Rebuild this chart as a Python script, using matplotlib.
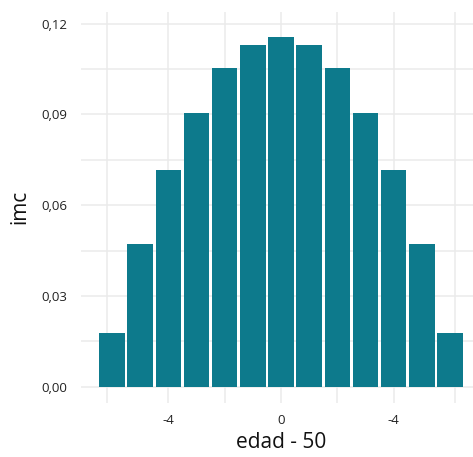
import matplotlib
matplotlib.use("Agg")
import matplotlib.pyplot as plt
import numpy as np

# data
edad = [-6, -5, -4, -3, -2, -1, 0, 1, 2, 3, 4, 5, 6]
imc = [0.0176, 0.0470, 0.0715, 0.0906, 0.1052, 0.1128, 0.1155,
       0.1128, 0.1052, 0.0906, 0.0715, 0.0470, 0.0176]
x_major = [-4, 0, 4]
x_major_labels = ["-4", "0", "-4"]
x_minor = [-6.18, -2, 2, 6.18]
y_ticks = [0.00, 0.03, 0.06, 0.09, 0.12]
y_labels = ["0,00", "0,03", "0,06", "0,09", "0,12"]
y_minor = [0.015, 0.045, 0.075, 0.105]

plt.rcParams['font.family'] = ['Open Sans', 'DejaVu Sans']

W, H = 473, 457
fig = plt.figure(figsize=(W / 100, H / 100), dpi=100)
xlim = (-7.1, 7.1)
ylim = (-0.0052, 0.1238)
unit = 28.17
left_px = 281 + xlim[0] * unit
width_px = (xlim[1] - xlim[0]) * unit
top_px = 12
bottom_px = 402.5
ax = fig.add_axes([left_px / W, 1 - bottom_px / H, width_px / W, (bottom_px - top_px) / H])
ax.set_xlim(*xlim)
ax.set_ylim(*ylim)

grid_c = "#EBEBEB"
for v in x_major + x_minor:
    ax.axvline(v, color=grid_c, lw=1.1, zorder=0)
for v in y_ticks + y_minor:
    ax.axhline(v, color=grid_c, lw=1.1, zorder=0)

ax.bar(edad, imc, width=0.9, color="#0D7A8C", zorder=2)

ax.set_xticks(x_major)
ax.set_xticklabels(x_major_labels)
ax.set_yticks(y_ticks)
ax.set_yticklabels(y_labels)
ax.tick_params(axis='both', length=0, labelsize=9.5, colors="#222222")
ax.tick_params(axis='x', pad=8)
ax.tick_params(axis='y', pad=10)
for s in ax.spines.values():
    s.set_visible(False)

ax.set_xlabel("edad - 50", fontsize=15, color="#111111", labelpad=4)
ax.set_ylabel("imc", fontsize=15, color="#111111", labelpad=8)

fig.savefig("out.png", dpi=100, facecolor="white")
